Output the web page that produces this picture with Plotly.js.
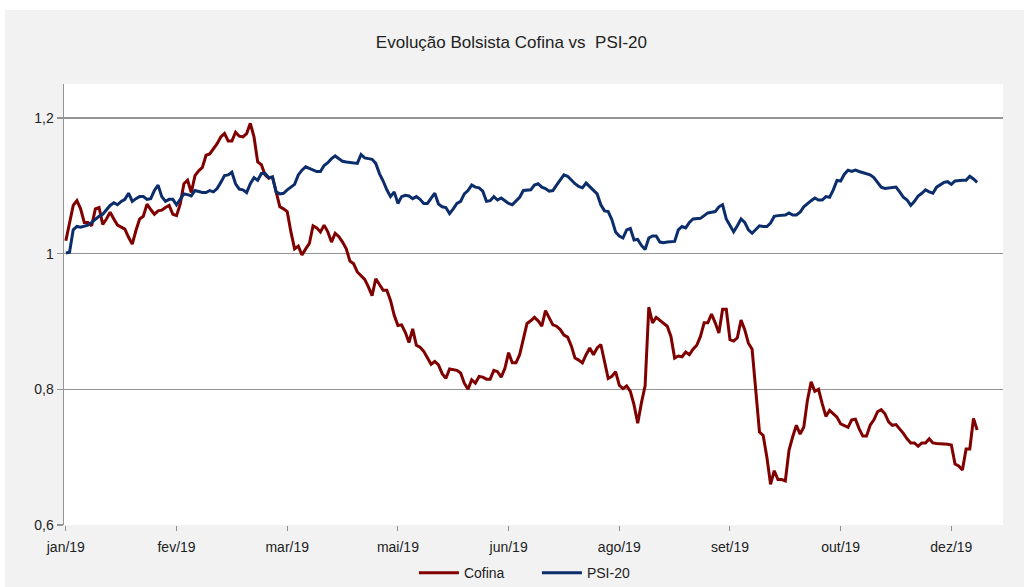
<!DOCTYPE html>
<html>
<head>
<meta charset="utf-8">
<script src="https://cdn.plot.ly/plotly-3.0.1.min.js"></script>
<style>
  html, body { margin: 0; padding: 0; background: #ffffff; width: 1024px; height: 587px; overflow: hidden; }
  #chart { position: absolute; left: 5px; top: 10px; width: 1019px; height: 577px; }
</style>
</head>
<body>
<div id="chart"></div>
<script>
// Trading-day series (index 0 = first trading day of Jan 2019), normalised to 1
const cofina = [
  1.019,1.048,1.071,1.078,1.066,1.046,1.046,1.041,1.066,1.068,
  1.043,1.051,1.061,1.051,1.042,1.039,1.036,1.024,1.014,1.034,
  1.051,1.055,1.073,1.065,1.058,1.063,1.064,1.068,1.071,1.058,
  1.056,1.073,1.103,1.108,1.090,1.115,1.122,1.127,1.145,1.147,
  1.154,1.162,1.172,1.177,1.166,1.166,1.179,1.173,1.172,1.177,
  1.192,
  1.172,1.135,1.131,1.116,1.111,1.113,1.089,1.069,1.066,1.062,
  1.032,1.007,1.011,0.998,1.007,1.015,1.041,1.038,1.032,1.042,
  1.032,1.017,1.030,1.025,1.017,1.007,0.989,0.985,0.973,0.968,
  0.962,0.951,0.938,0.963,0.954,0.946,0.946,0.931,0.909,0.894,
  0.895,0.884,0.869,0.889,0.865,0.862,0.856,0.847,0.837,0.841,
  0.836,0.823,0.816,0.830,0.829,0.828,0.824,0.809,0.800,0.814,
  0.809,0.819,0.818,0.815,0.815,0.828,0.826,0.818,0.831,0.854,
  0.839,0.839,0.851,0.873,0.897,0.901,0.906,0.901,0.893,0.916,
  0.906,0.895,0.893,0.888,0.880,0.877,0.864,0.846,0.843,0.839,
  0.851,0.861,0.851,0.861,0.866,0.839,0.816,0.819,0.826,0.806,
  0.801,0.805,0.797,0.777,0.750,0.780,0.805,0.921,0.898,0.906,
  0.902,0.897,0.893,0.878,0.846,0.849,0.848,0.855,0.851,0.859,
  0.865,0.878,0.898,0.898,0.911,0.898,0.883,0.918,0.918,0.873,
  0.871,0.876,0.902,0.888,0.868,0.859,0.799,0.737,0.732,0.700,
  0.660,0.680,0.667,0.667,0.665,0.710,0.730,0.747,0.734,0.744,
  0.784,0.811,0.797,0.800,0.779,0.760,0.769,0.764,0.759,0.749,
  0.747,0.744,0.755,0.756,0.742,0.731,0.731,0.747,0.755,0.767,
  0.770,0.764,0.752,0.747,0.748,0.742,0.735,0.727,0.721,0.721,
  0.716,0.721,0.721,0.727,0.721,0.720,0.720,0.720,0.719,0.718,
  0.690,0.687,0.681,0.712,0.712,0.757,0.740
];

const psi20 = [
  1.001,1.002,1.035,1.040,1.039,1.040,1.042,1.046,1.051,1.055,
  1.058,1.065,1.071,1.075,1.072,1.077,1.080,1.089,1.077,1.081,
  1.084,1.084,1.080,1.081,1.093,1.101,1.084,1.077,1.080,1.080,
  1.072,1.080,1.088,1.087,1.085,1.093,1.091,1.090,1.090,1.093,
  1.091,1.096,1.105,1.115,1.116,1.120,1.103,1.095,1.094,1.090,
  1.103,
  1.112,1.108,1.118,1.118,1.112,1.113,1.091,1.088,1.089,1.094,
  1.098,1.102,1.116,1.123,1.128,1.126,1.124,1.121,1.121,1.130,
  1.134,1.140,1.144,1.140,1.136,1.135,1.134,1.133,1.133,1.146,
  1.141,1.140,1.139,1.133,1.118,1.107,1.094,1.084,1.091,1.074,
  1.084,1.086,1.085,1.081,1.084,1.080,1.074,1.074,1.082,1.089,
  1.073,1.069,1.068,1.059,1.066,1.074,1.077,1.088,1.093,1.101,
  1.098,1.097,1.092,1.077,1.078,1.084,1.079,1.082,1.078,1.074,
  1.072,1.077,1.083,1.093,1.094,1.094,1.101,1.103,1.098,1.096,
  1.092,1.093,1.101,1.109,1.116,1.114,1.108,1.103,1.099,1.097,
  1.104,1.099,1.093,1.088,1.072,1.063,1.062,1.050,1.032,1.026,
  1.023,1.035,1.037,1.020,1.021,1.012,1.006,1.023,1.026,1.026,
  1.017,1.016,1.017,1.017,1.018,1.035,1.040,1.038,1.046,1.051,
  1.052,1.052,1.056,1.060,1.061,1.062,1.069,1.072,1.051,1.042,
  1.032,1.041,1.051,1.046,1.035,1.030,1.035,1.041,1.040,1.040,
  1.045,1.055,1.056,1.056,1.057,1.060,1.057,1.057,1.061,1.069,
  1.074,1.078,1.082,1.079,1.079,1.084,1.083,1.094,1.108,1.107,
  1.117,1.123,1.121,1.123,1.121,1.119,1.117,1.116,1.112,1.105,
  1.098,1.096,1.097,1.097,1.098,1.091,1.083,1.079,1.071,1.077,
  1.085,1.089,1.094,1.091,1.089,1.098,1.101,1.105,1.106,1.102,
  1.107,1.108,1.108,1.108,1.114,1.110,1.105
];

const tickLabels = ['jan/19','fev/19','mar/19','mai/19','jun/19','ago/19','set/19','out/19','dez/19'];
const tickStep = 30; // one label every 30 trading days
const yTicks = [0.6, 0.8, 1.0, 1.2];

const days = cofina.map((_, i) => i);
const tickVals = tickLabels.map((_, k) => k * tickStep);

const FONT = '"Liberation Sans Narrow", "Arial Narrow", "Liberation Sans", Arial, sans-serif';

const traces = [
  { x: days, y: cofina, name: 'Cofina', type: 'scatter', mode: 'lines',
    line: { color: '#800000', width: 3 } },
  { x: days, y: psi20, name: 'PSI-20', type: 'scatter', mode: 'lines',
    line: { color: '#0c2d6b', width: 3 } }
];

const layout = {
  width: 1019, height: 577,
  paper_bgcolor: '#f2f2f2',
  plot_bgcolor: '#ffffff',
  separators: ',.',
  font: { family: FONT, size: 14, color: '#222222' },
  margin: { l: 59, r: 21, t: 74, b: 62 },
  title: { text: 'Evolução Bolsista Cofina vs  PSI-20', x: 0.497, xref: 'container', xanchor: 'center',
           y: 0.945, yref: 'container', yanchor: 'middle',
           font: { family: FONT, size: 17, color: '#222222' } },
  xaxis: {
    range: [-0.5, 254], tickmode: 'array', tickvals: tickVals, ticktext: tickLabels,
    showgrid: false, zeroline: false, showline: false,
    ticks: 'outside', ticklen: 5, tickcolor: '#909090', tickwidth: 1,
    ticklabelstandoff: 4,
    tickfont: { family: FONT, size: 14, color: '#222222' }
  },
  yaxis: {
    range: [0.6, 1.25], tickmode: 'array', tickvals: yTicks,
    showgrid: true, gridcolor: '#949494', gridwidth: 1.5, zeroline: false,
    showline: true, linecolor: '#949494', linewidth: 1.5,
    ticks: 'outside', ticklen: 6, tickcolor: '#949494', tickwidth: 1.5,
    tickfont: { family: FONT, size: 14, color: '#222222' }
  },
  showlegend: true,
  legend: { orientation: 'h', x: 0.522, xref: 'container', xanchor: 'center',
            y: 0.024, yref: 'container', yanchor: 'middle',
            bgcolor: 'rgba(0,0,0,0)', font: { family: FONT, size: 14, color: '#222222' },
            itemwidth: 40, entrywidth: 68, entrywidthmode: 'pixels' }
};

Plotly.newPlot('chart', traces, layout, { displayModeBar: false, staticPlot: true });
</script>
</body>
</html>
